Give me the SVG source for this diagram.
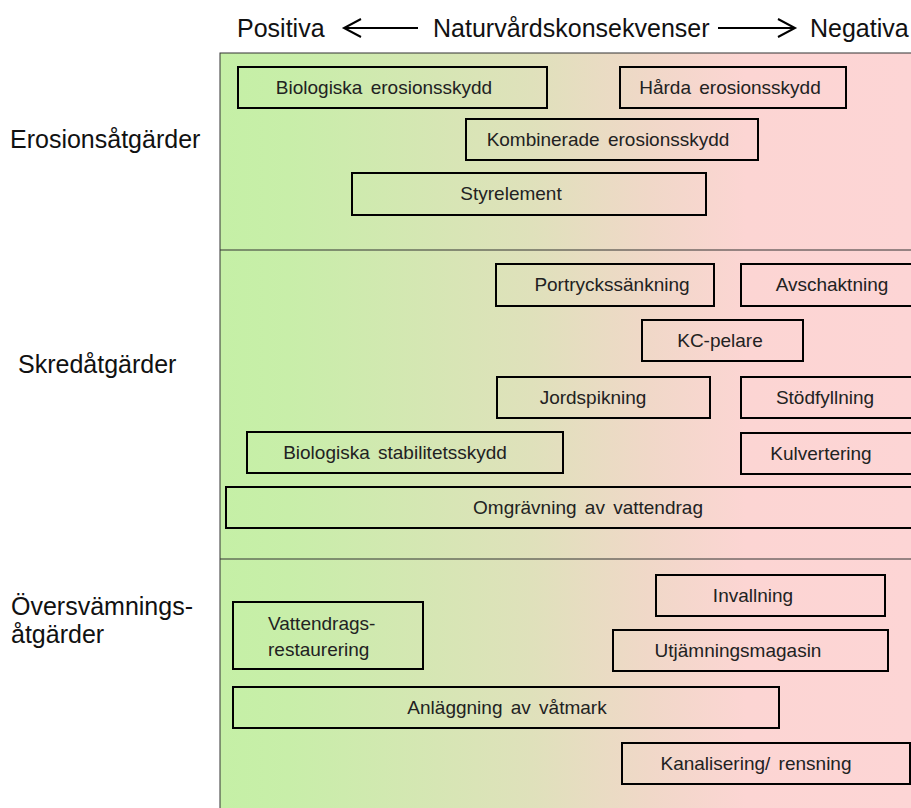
<svg xmlns="http://www.w3.org/2000/svg" width="911" height="808" viewBox="0 0 911 808">
<defs>
<linearGradient id="bg" x1="220" y1="0" x2="911" y2="0" gradientUnits="userSpaceOnUse">
<stop offset="0" stop-color="#C5F0A6"/>
<stop offset="0.1" stop-color="#C8EEA9"/>
<stop offset="0.45" stop-color="#DFE1BB"/>
<stop offset="0.62" stop-color="#F0D8C8"/>
<stop offset="0.76" stop-color="#FCD5D3"/>
<stop offset="1" stop-color="#FDD5D5"/>
</linearGradient>
<style>
.hdr{font-family:"Liberation Sans",Arial,sans-serif;font-size:25px;fill:#111}
.lbl{font-family:"Liberation Sans",Arial,sans-serif;font-size:25px;fill:#111}
.box rect{fill:none;stroke:#000;stroke-width:2}
.box text{font-family:"Liberation Sans",Arial,sans-serif;font-size:19px;fill:#222;text-anchor:middle;word-spacing:3px}
.arr{stroke:#000;stroke-width:2;fill:none}
</style>
</defs>
<rect width="911" height="808" fill="#fff"/>
<g id="header">
<text class="hdr" x="237" y="37">Positiva</text>
<text class="hdr" x="433" y="37">Naturvårdskonsekvenser</text>
<text class="hdr" x="810" y="37">Negativa</text>
</g>
<g id="connectors">
<path class="arr" d="M344 28 H418 M361 19 L344 28 L361 37"/>
<path class="arr" d="M718 28 H795 M778 19 L795 28 L778 37"/>
</g>
<g id="panel">
<rect x="220" y="53" width="700" height="760" fill="url(#bg)" stroke="#333" stroke-width="1"/>
<line x1="220" y1="250" x2="911" y2="250" stroke="#333" stroke-width="1"/>
<line x1="220" y1="559" x2="911" y2="559" stroke="#333" stroke-width="1"/>
</g>
<g id="labels">
<text class="lbl" x="10" y="148">Erosionsåtgärder</text>
<text class="lbl" x="18" y="373">Skredåtgärder</text>
<text class="lbl" x="11" y="615">Översvämnings-</text>
<text class="lbl" x="11" y="643">åtgärder</text>
</g>
<g id="n1" class="box"><rect x="238" y="67" width="309" height="41"/><text x="384" y="94">Biologiska erosionsskydd</text></g>
<g id="n2" class="box"><rect x="620" y="67" width="226" height="41"/><text x="730" y="94">Hårda erosionsskydd</text></g>
<g id="n3" class="box"><rect x="466" y="119" width="292" height="41"/><text x="608" y="146">Kombinerade erosionsskydd</text></g>
<g id="n4" class="box"><rect x="352" y="173" width="354" height="42"/><text x="511" y="200">Styrelement</text></g>
<g id="n5" class="box"><rect x="496" y="264" width="218" height="42"/><text x="612" y="291">Portryckssänkning</text></g>
<g id="n6" class="box"><rect x="741" y="264" width="180" height="42"/><text x="832" y="291">Avschaktning</text></g>
<g id="n7" class="box"><rect x="642" y="320" width="161" height="41"/><text x="720" y="347">KC-pelare</text></g>
<g id="n8" class="box"><rect x="497" y="377" width="213" height="41"/><text x="593" y="404">Jordspikning</text></g>
<g id="n9" class="box"><rect x="741" y="377" width="180" height="41"/><text x="825" y="404">Stödfyllning</text></g>
<g id="n10" class="box"><rect x="247" y="432" width="316" height="41"/><text x="395" y="459">Biologiska stabilitetsskydd</text></g>
<g id="n11" class="box"><rect x="741" y="433" width="180" height="41"/><text x="821" y="460">Kulvertering</text></g>
<g id="n12" class="box"><rect x="226" y="487" width="700" height="41"/><text x="588" y="514">Omgrävning av vattendrag</text></g>
<g id="n13" class="box"><rect x="656" y="575" width="229" height="41"/><text x="753" y="602">Invallning</text></g>
<g id="n14" class="box"><rect x="233" y="602" width="190" height="67"/><text x="268" y="630" style="text-anchor:start">Vattendrags-</text><text x="268" y="656" style="text-anchor:start">restaurering</text></g>
<g id="n15" class="box"><rect x="613" y="630" width="275" height="41"/><text x="738" y="657">Utjämningsmagasin</text></g>
<g id="n16" class="box"><rect x="233" y="687" width="546" height="41"/><text x="507" y="714">Anläggning av våtmark</text></g>
<g id="n17" class="box"><rect x="622" y="743" width="288" height="41"/><text x="756" y="770">Kanalisering/ rensning</text></g>
</svg>
